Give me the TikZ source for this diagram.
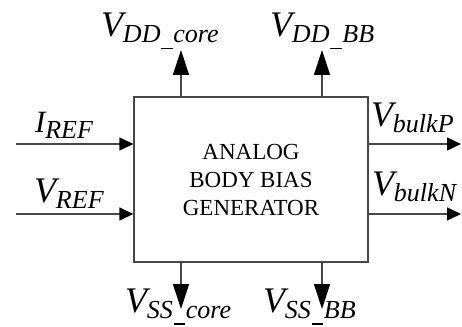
\documentclass[tikz,border=0pt]{standalone}
\usepackage{fontspec}
\setmainfont{Liberation Serif}
\usetikzlibrary{arrows.meta}
\newcommand\sigl[3]{{\fontsize{#1}{#1}\selectfont\itshape #2}\raisebox{-6pt}{\fontsize{26}{26}\selectfont\itshape #3}}
\newcommand\ubar{\kern0.6pt\rule[-6.5pt]{11.5pt}{1.9pt}\kern0.8pt}
\tikzset{
  x=1pt, y=-1pt,
  wire/.style={draw=black!72, line width=1.3pt},
  vhead/.style={wire, -{Triangle[length=25pt,width=16pt,color=black,fill=black]}},
  hhead/.style={wire, -{Triangle[length=14pt,width=13pt,color=black,fill=black]}},
  blockbox/.style={draw=black!72, line width=1.3pt, minimum width=234pt, minimum height=165pt, inner sep=0pt,
    align=center, font=\fontsize{23}{28}\selectfont},
  lbl/.style={anchor=base west, inner sep=0pt, outer sep=0pt}
}
\begin{document}
\begin{tikzpicture}
\useasboundingbox (0,0) rectangle (462,326);
\node[blockbox] (gen) at (251,179.5) {ANALOG\\BODY BIAS\\GENERATOR};
% free ends
\coordinate (ddc) at (181,50);
\coordinate (ddb) at (322,50);
\coordinate (ssc) at (181,309);
\coordinate (ssb) at (322,309);
\coordinate (iref) at (16,144);
\coordinate (vref) at (16,214);
\coordinate (bp) at (461,144);
\coordinate (bn) at (461,214);
% labels
\node[lbl] (lddc) at (101,37) {\sigl{36}{V}{DD\ubar core}};
\node[lbl] (lddb) at (270,37) {\sigl{36}{V}{DD\ubar BB}};
\node[lbl] (liref) at (35,132) {\sigl{31}{I}{REF}};
\node[lbl] (lvref) at (34,202) {\sigl{36}{V}{REF}};
\node[lbl] (lbp) at (371,126) {\sigl{36}{V}{bulkP}};
\node[lbl] (lbn) at (372,195) {\sigl{36}{V}{bulkN}};
\node[lbl] (lssc) at (125,312) {\sigl{36}{V}{SS\ubar core}};
\node[lbl] (lssb) at (263,312) {\sigl{36}{V}{SS\ubar BB}};
% connectors
\draw[vhead] (gen.north -| ddc) -- (ddc);
\draw[vhead] (gen.north -| ddb) -- (ddb);
\draw[vhead] (gen.south -| ssc) -- (ssc);
\draw[vhead] (gen.south -| ssb) -- (ssb);
\draw[hhead] (iref) -- (gen.west |- iref);
\draw[hhead] (vref) -- (gen.west |- vref);
\draw[hhead] (gen.east |- bp) -- (bp);
\draw[hhead] (gen.east |- bn) -- (bn);
\end{tikzpicture}
\end{document}
